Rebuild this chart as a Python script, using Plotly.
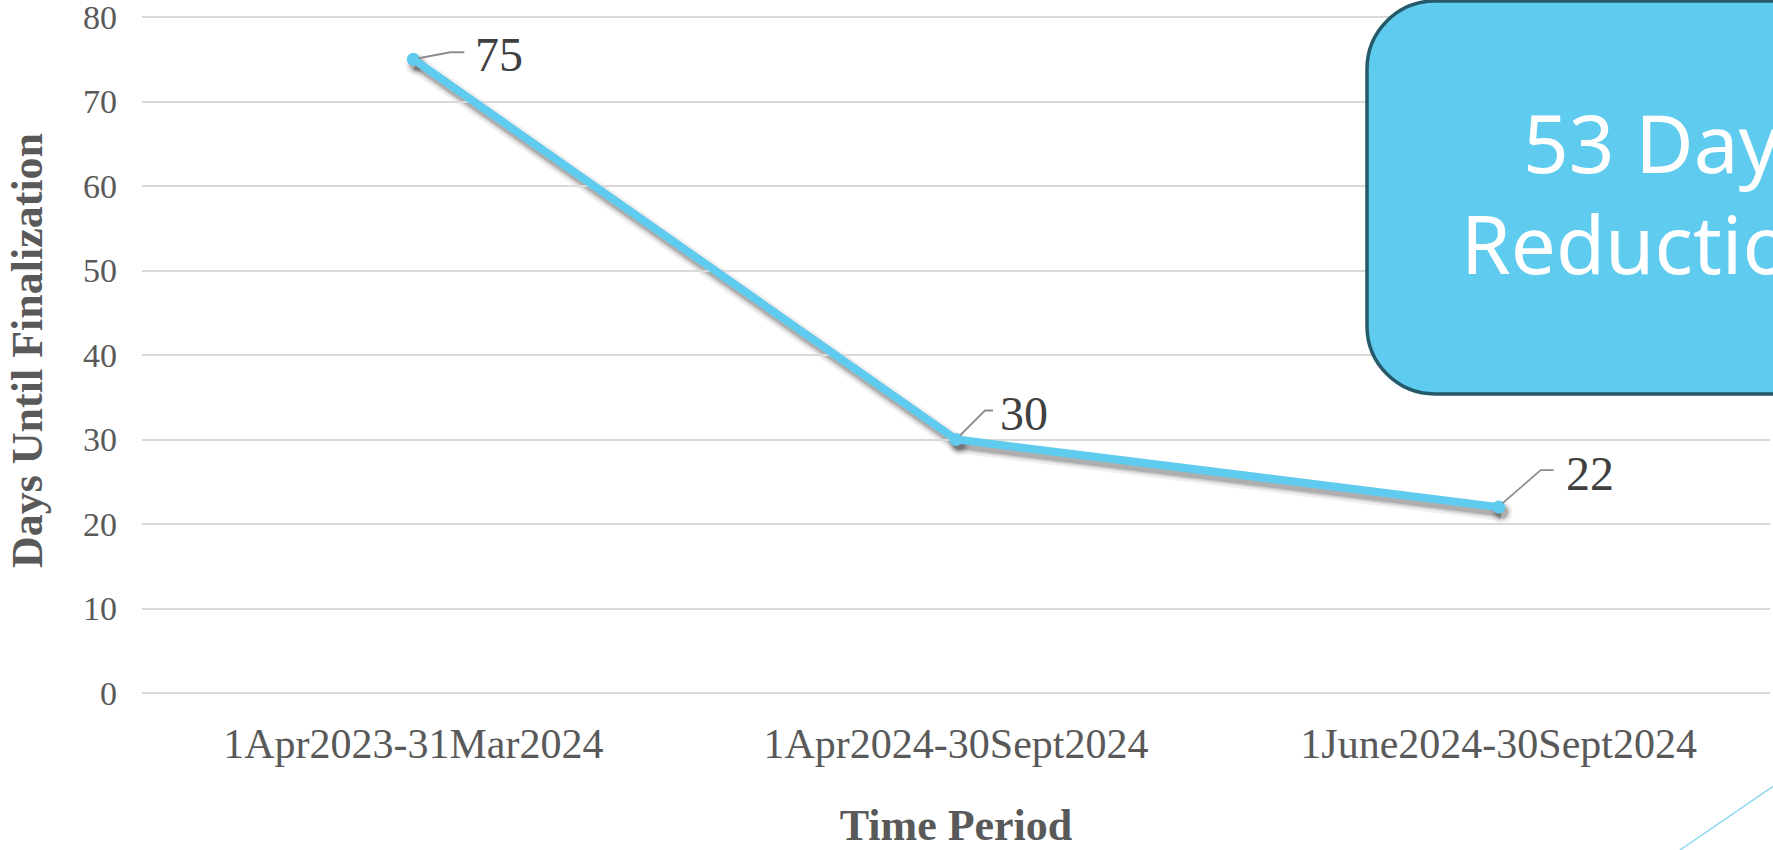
import plotly.graph_objects as go

categories = ["1Apr2023-31Mar2024", "1Apr2024-30Sept2024", "1June2024-30Sept2024"]
days = [75, 30, 22]
y_ticks = [0, 10, 20, 30, 40, 50, 60, 70, 80]
callout_lines = ["53 Days", "Reduction"]
x_title = "Time Period"
y_title = "Days Until Finalization"

W, H = 1773, 850
SX, SY = 3, 5            # shadow offset px
PL, PR = 142, 1773       # plot area left/right (px)
PT = 8                   # plot area top (px)
Y0_PX, Y80_PX = 693, 17  # pixel rows of the 0 and 80 gridlines
PB = Y0_PX + SY
ML, MR, MT, MB = PL, W - PR, PT, H - PB
PW, PH = PR - PL, PB - PT
ytop = 80 + (Y80_PX - PT) * 80 / (Y0_PX - Y80_PX)
YR = [0, ytop]

def pxx(p):
    return (p - PL) / PW

def pxy(p):
    return (PB - p) / PH

BLUE = "#5FCBEF"
GRID = "#D9D9D9"
TXT = "#595959"
xs = list(range(len(categories)))

fig = go.Figure()
# soft shadow traces on a hidden subplot offset a few px down-right
for w, op in [(18, 0.06), (13, 0.11), (9, 0.18)]:
    fig.add_trace(go.Scatter(x=xs, y=days, mode="lines+markers",
                             line=dict(color=f"rgba(0,0,0,{op})", width=w),
                             marker=dict(size=w + 4, color=f"rgba(0,0,0,{op})"),
                             xaxis="x", yaxis="y", hoverinfo="skip", showlegend=False))
fig.add_trace(go.Scatter(x=xs, y=days, mode="lines+markers",
                         line=dict(color=BLUE, width=8),
                         marker=dict(size=13, color=BLUE),
                         xaxis="x2", yaxis="y2", showlegend=False))

# data labels and leader lines
label_off = [(60, 5), (42, 26), (65, 34)]
leader = [[(5, 1), (37, 7), (51, 7)], [(4, 4), (29, 29), (37, 29)], [(4, 4), (42, 37), (55, 37)]]
for i, (v, (dx, dy), ld) in enumerate(zip(days, label_off, leader)):
    fig.add_annotation(x=xs[i], y=v, xref="x2", yref="y2", text=str(v), showarrow=False,
                       xanchor="left", yanchor="middle", xshift=dx, yshift=dy,
                       font=dict(family="Liberation Serif", size=48, color="#404040"))
    path = "M " + " L ".join(f"{a} {b}" for a, b in ld)
    fig.add_shape(type="path", xref="x2", yref="y2", xsizemode="pixel", ysizemode="pixel",
                  xanchor=xs[i], yanchor=v, path=path, line=dict(color="#8C8C8C", width=1.8))

# rounded callout box
L, T, R, B, r = 1367, 1, 1990, 394, 68
k = 0.5523 * r
def P(x, y):
    return f"{pxx(x):.5f},{pxy(y):.5f}"
box = (f"M {P(L, T + r)} C {P(L, T + r - k)} {P(L + r - k, T)} {P(L + r, T)} "
       f"L {P(R, T)} L {P(R, B)} L {P(L + r, B)} "
       f"C {P(L + r - k, B)} {P(L, B - r + k)} {P(L, B - r)} Z")
fig.add_shape(type="path", xref="paper", yref="paper", path=box,
              fillcolor="#5FCBEF", line=dict(color="#255A6B", width=3.5), layer="above")
for line_text, lx, ly in zip(callout_lines, [1521, 1459], [141, 243]):
    fig.add_annotation(xref="paper", yref="paper", x=pxx(lx), y=pxy(ly), xanchor="left", yanchor="middle",
                       text=line_text, showarrow=False,
                       font=dict(family="Noto Sans", size=80, color="white"))

# decorative thin line
fig.add_shape(type="line", xref="paper", yref="paper",
              x0=pxx(1680), y0=pxy(850), x1=pxx(1800), y1=pxy(768),
              line=dict(color="#8AD6F2", width=1.5), layer="above")

xdom_main = [0, (PW - SX) / PW]
xdom_sh = [SX / PW, 1]
ydom_main = [SY / PH, 1]
ydom_sh = [0, (PH - SY) / PH]

fig.update_layout(
    width=W, height=H, margin=dict(l=ML, r=MR, t=MT, b=MB),
    paper_bgcolor="white", plot_bgcolor="rgba(0,0,0,0)",
    xaxis=dict(domain=xdom_sh, range=[-0.5, 2.5], visible=False, showgrid=False, anchor="y"),
    yaxis=dict(domain=ydom_sh, range=YR, visible=False, showgrid=False, anchor="x"),
    xaxis2=dict(domain=xdom_main, range=[-0.5, 2.5], tickvals=xs, ticktext=categories,
                anchor="y2",
                showgrid=False, zeroline=False, showline=False, ticks="",
                ticklabelstandoff=22,
                tickfont=dict(family="Liberation Serif", size=42, color=TXT),
                title=dict(text=x_title, standoff=50,
                           font=dict(family="Liberation Serif", size=44, color=TXT, weight="bold"))),
    yaxis2=dict(domain=ydom_main, range=YR, tickvals=y_ticks, anchor="x2",
                showgrid=True, gridcolor=GRID, gridwidth=2,
                zeroline=True, zerolinecolor=GRID, zerolinewidth=2, showline=False, ticks="",
                ticklabelstandoff=24, ticklabeloverflow="allow",
                tickfont=dict(family="Liberation Serif", size=34, color=TXT),
                title=dict(text=y_title, standoff=26,
                           font=dict(family="Liberation Serif", size=44, color=TXT, weight="bold"))),
    showlegend=False,
)

fig.write_html("out.html", config={"displayModeBar": False},
               post_script="document.body.style.margin='0';document.body.style.overflow='hidden';")
